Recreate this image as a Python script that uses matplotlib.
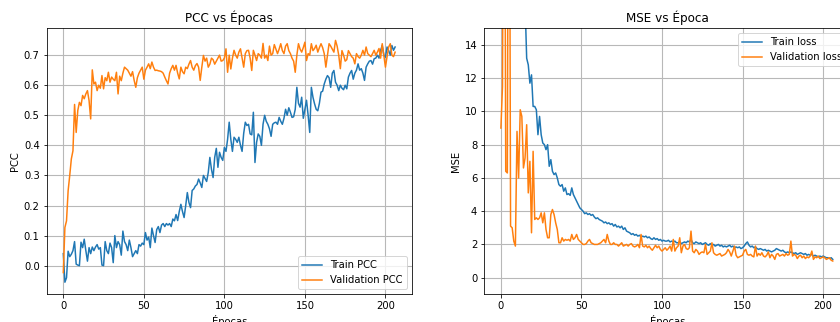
import numpy as np
import matplotlib
matplotlib.use("Agg")
import matplotlib.pyplot as plt

# Per-epoch training history (207 epochs)
train_pcc = [
    0.040, -0.055, -0.040, 0.048, 0.030, 0.038, 0.050, 0.080, 0.005, 0.002,
    0.000, 0.078, 0.060, 0.088, 0.050, 0.015, 0.060, 0.040, 0.062, 0.050,
    0.062, 0.070, 0.055, 0.060, 0.002, 0.000, 0.080, 0.050, 0.040, 0.075,
    0.060, 0.010, 0.100, 0.060, 0.080, 0.070, 0.035, 0.115, 0.080, 0.070,
    0.050, 0.085, 0.060, 0.030, 0.040, 0.050, 0.040, 0.070, 0.065, 0.075,
    0.070, 0.110, 0.085, 0.095, 0.060, 0.125, 0.100, 0.077, 0.120, 0.130,
    0.110, 0.135, 0.140, 0.130, 0.140, 0.135, 0.140, 0.130, 0.155, 0.149,
    0.170, 0.150, 0.180, 0.204, 0.180, 0.160, 0.200, 0.243, 0.210, 0.193,
    0.250, 0.255, 0.265, 0.270, 0.288, 0.275, 0.260, 0.300, 0.290, 0.280,
    0.310, 0.360, 0.320, 0.293, 0.360, 0.390, 0.327, 0.377, 0.360, 0.350,
    0.393, 0.380, 0.420, 0.477, 0.420, 0.380, 0.427, 0.420, 0.410, 0.427,
    0.400, 0.380, 0.440, 0.477, 0.466, 0.470, 0.438, 0.435, 0.510, 0.343,
    0.410, 0.438, 0.430, 0.400, 0.470, 0.500, 0.480, 0.470, 0.455, 0.430,
    0.470, 0.475, 0.477, 0.470, 0.493, 0.480, 0.470, 0.490, 0.520, 0.500,
    0.525, 0.510, 0.493, 0.495, 0.520, 0.593, 0.540, 0.527, 0.560, 0.490,
    0.520, 0.550, 0.500, 0.443, 0.593, 0.560, 0.538, 0.520, 0.515, 0.540,
    0.577, 0.580, 0.604, 0.620, 0.632, 0.625, 0.593, 0.640, 0.649, 0.610,
    0.600, 0.582, 0.600, 0.590, 0.585, 0.600, 0.588, 0.627, 0.640, 0.649,
    0.620, 0.640, 0.650, 0.671, 0.650, 0.655, 0.640, 0.616, 0.660, 0.671,
    0.680, 0.682, 0.670, 0.688, 0.690, 0.700, 0.690, 0.716, 0.732, 0.700,
    0.693, 0.727, 0.715, 0.700, 0.732, 0.716, 0.727,
]

val_pcc = [
    -0.023, 0.127, 0.149, 0.249, 0.300, 0.355, 0.382, 0.536, 0.443, 0.516,
    0.543, 0.532, 0.566, 0.555, 0.571, 0.582, 0.549, 0.488, 0.651, 0.604,
    0.610, 0.582, 0.600, 0.590, 0.632, 0.588, 0.625, 0.615, 0.643, 0.610,
    0.627, 0.620, 0.615, 0.643, 0.571, 0.630, 0.615, 0.640, 0.660, 0.655,
    0.650, 0.640, 0.630, 0.645, 0.616, 0.593, 0.625, 0.640, 0.650, 0.660,
    0.620, 0.650, 0.660, 0.671, 0.655, 0.677, 0.660, 0.649, 0.650, 0.648,
    0.647, 0.645, 0.640, 0.627, 0.615, 0.604, 0.640, 0.655, 0.666, 0.650,
    0.666, 0.640, 0.621, 0.660, 0.645, 0.638, 0.660, 0.655, 0.670, 0.682,
    0.660, 0.650, 0.665, 0.672, 0.660, 0.616, 0.660, 0.699, 0.680, 0.690,
    0.660, 0.670, 0.690, 0.685, 0.670, 0.680, 0.690, 0.700, 0.680, 0.682,
    0.690, 0.721, 0.643, 0.700, 0.654, 0.690, 0.716, 0.700, 0.690, 0.710,
    0.721, 0.690, 0.660, 0.705, 0.715, 0.716, 0.690, 0.649, 0.716, 0.700,
    0.682, 0.705, 0.700, 0.690, 0.739, 0.690, 0.700, 0.682, 0.730, 0.700,
    0.705, 0.735, 0.720, 0.705, 0.720, 0.738, 0.715, 0.705, 0.730, 0.738,
    0.715, 0.705, 0.690, 0.680, 0.643, 0.700, 0.738, 0.720, 0.710, 0.725,
    0.743, 0.682, 0.705, 0.700, 0.738, 0.715, 0.722, 0.733, 0.710, 0.725,
    0.738, 0.725, 0.705, 0.660, 0.700, 0.738, 0.730, 0.720, 0.710, 0.749,
    0.730, 0.700, 0.655, 0.715, 0.700, 0.680, 0.685, 0.715, 0.705, 0.695,
    0.690, 0.671, 0.705, 0.695, 0.690, 0.700, 0.716, 0.700, 0.727, 0.705,
    0.700, 0.695, 0.705, 0.716, 0.700, 0.710, 0.722, 0.690, 0.738, 0.700,
    0.660, 0.695, 0.727, 0.738, 0.700, 0.695, 0.710,
]

train_loss = [
    50.0, 42.0, 37.0, 33.5, 30.5, 28.0, 26.0, 24.2, 22.6, 21.3,
    20.1, 19.1, 18.3, 17.6, 17.0, 16.5, 13.2, 12.8, 11.7, 12.2,
    10.3, 10.3, 10.1, 8.6, 9.7, 8.6, 8.1, 8.0, 7.7, 8.0,
    6.7, 7.1, 6.4, 6.2, 6.3, 6.0, 5.6, 5.5, 5.6, 5.2,
    5.4, 5.0, 5.05, 4.95, 5.4, 5.0, 4.8, 4.6, 4.4, 4.2,
    4.1, 4.0, 3.85, 3.9, 3.8, 3.85, 3.75, 3.8, 3.65, 3.55,
    3.6, 3.5, 3.45, 3.4, 3.3, 3.35, 3.25, 3.3, 3.2, 3.25,
    3.1, 3.2, 3.05, 3.1, 3.0, 3.1, 2.9, 3.0, 2.8, 2.75,
    2.7, 2.6, 2.65, 2.55, 2.6, 2.5, 2.55, 2.45, 2.5, 2.45,
    2.5, 2.4, 2.45, 2.35, 2.3, 2.4, 2.3, 2.35, 2.25, 2.3,
    2.2, 2.25, 2.2, 2.2, 2.25, 2.15, 2.2, 2.15, 2.2, 2.1,
    2.1, 2.15, 2.05, 2.1, 2.15, 2.1, 2.2, 2.15, 2.3, 2.1,
    2.05, 2.15, 2.1, 2.05, 2.1, 2.0, 2.05, 2.1, 2.0, 1.95,
    2.05, 1.95, 2.0, 1.9, 1.95, 2.0, 1.9, 1.95, 1.85, 1.9,
    1.85, 1.9, 1.95, 1.85, 1.9, 1.8, 1.85, 1.8, 1.85, 1.75,
    1.8, 1.9, 2.05, 2.15, 1.95, 1.85, 1.9, 1.8, 1.85, 1.75,
    1.7, 1.75, 1.7, 1.65, 1.7, 1.6, 1.65, 1.6, 1.55, 1.6,
    1.65, 1.75, 1.7, 1.65, 1.6, 1.65, 1.55, 1.5, 1.55, 1.5,
    1.55, 1.5, 1.45, 1.5, 1.4, 1.45, 1.5, 1.45, 1.4, 1.45,
    1.35, 1.4, 1.35, 1.4, 1.3, 1.35, 1.3, 1.25, 1.3, 1.25,
    1.3, 1.25, 1.2, 1.2, 1.15, 1.2, 1.1,
]

val_loss = [
    9.0, 11.5, 40.0, 6.4, 6.3, 40.0, 3.1, 3.0, 2.2, 1.9,
    8.8, 6.0, 10.1, 9.7, 6.6, 7.2, 9.2, 5.1, 7.0, 2.7,
    7.6, 3.5, 3.6, 3.5, 3.6, 3.9, 3.3, 3.9, 2.9, 2.4,
    2.4, 3.8, 4.1, 3.8, 3.3, 2.9, 2.1, 2.1, 2.4, 2.2,
    2.3, 2.25, 2.3, 2.2, 2.6, 2.3, 2.4, 2.6, 2.3, 2.2,
    2.1, 2.0, 2.0, 2.05, 2.2, 2.3, 2.1, 2.05, 2.0, 2.0,
    2.0, 2.05, 2.1, 2.2, 2.3, 2.1, 2.6, 2.2, 2.0, 2.0,
    2.1, 2.0, 2.0, 1.9, 2.0, 2.1, 1.9, 1.95, 2.0, 1.9,
    2.0, 2.05, 1.9, 1.85, 1.9, 2.0, 1.8, 2.6, 1.9, 1.85,
    1.95, 1.8, 1.9, 1.75, 1.65, 1.8, 1.95, 1.8, 1.9, 1.7,
    1.6, 1.7, 1.8, 1.65, 1.75, 1.9, 1.6, 2.3, 1.6, 1.8,
    1.9, 2.4, 1.5, 1.9, 2.0, 1.75, 1.7, 1.8, 2.8, 1.6,
    1.5, 1.7, 1.6, 1.4, 1.5, 1.55, 1.5, 2.0, 1.4, 1.5,
    1.6, 2.1, 1.5, 1.4, 1.35, 1.4, 1.45, 1.3, 1.35, 1.4,
    1.5, 1.7, 1.55, 1.3, 1.6, 1.9, 1.35, 1.2, 1.25, 1.3,
    1.35, 1.6, 1.7, 1.4, 1.35, 1.4, 1.3, 1.25, 1.9, 1.3,
    1.45, 1.35, 1.5, 1.3, 1.25, 1.35, 1.55, 1.2, 1.4, 1.3,
    1.1, 1.4, 1.45, 1.3, 1.35, 1.4, 1.3, 1.45, 1.35, 1.4,
    2.2, 1.3, 1.4, 1.35, 1.15, 1.3, 1.35, 1.2, 1.3, 1.15,
    1.25, 1.2, 1.3, 1.6, 1.1, 1.25, 1.2, 1.3, 1.15, 1.2,
    1.25, 1.2, 1.1, 1.15, 1.2, 1.05, 1.0,
]

epochs = np.arange(len(train_pcc))

W, H = 840, 322
fig = plt.figure(figsize=(W / 72, H / 72), dpi=72)

ax1 = fig.add_axes([46.7 / W, (H - 294.3) / H, 365 / W, 266 / H])
ax2 = fig.add_axes([484.3 / W, (H - 294.3) / H, 367 / W, 266 / H])

grid_style = dict(color="#b8b8b8", linewidth=1.1)

# PCC per epoch
ax1.plot(epochs, train_pcc, label="Train PCC")
ax1.plot(epochs, val_pcc, label="Validation PCC")
ax1.set_title("PCC vs Épocas")
ax1.set_xlabel("Épocas")
ax1.set_ylabel("PCC")
ax1.legend(loc="lower right")
ax1.grid(True, **grid_style)

# MSE per epoch
ax2.plot(epochs, train_loss, label="Train loss")
ax2.plot(epochs, val_loss, label="Validation loss")
ax2.set_title("MSE vs Época")
ax2.set_xlabel("Épocas")
ax2.set_ylabel("MSE")
ax2.set_xlim(-10.3, 217.5)
ax2.set_ylim(-1, 15)
ax2.legend(loc="upper right")
ax2.grid(True, **grid_style)

fig.savefig("out.png", dpi=72)
